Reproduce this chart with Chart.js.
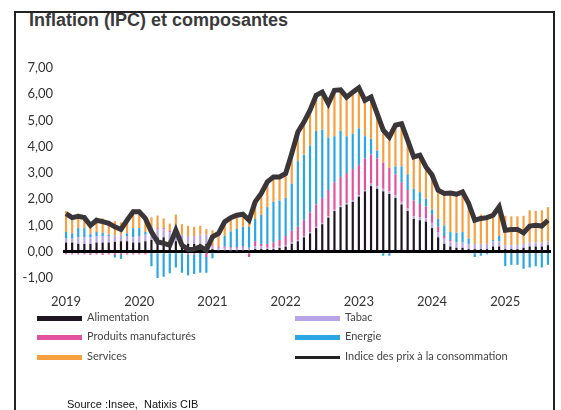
<!DOCTYPE html>
<html>
<head>
<meta charset="utf-8">
<script src="https://cdn.jsdelivr.net/npm/chart.js@4.4.1/dist/chart.umd.min.js"></script>
<style>
  html, body { margin: 0; padding: 0; background: #fff; }
  #wrap { position: relative; width: 561px; height: 410px; overflow: hidden; }
  #frame { position: absolute; left: 14px; top: 11px; width: 537px; height: 420px; border: 2px solid #222; }
  #title { position: absolute; left: 29px; top: 10px; font: bold 18px "Liberation Sans", Arial, sans-serif; color: #3a3a3a; }
  canvas { position: absolute; left: 0; top: 0; }
  .leg { position: absolute; font: 11px Lato, sans-serif; color: #444; white-space: nowrap; }
  .leg i { display: inline-block; width: 45px; height: 5px; vertical-align: middle; margin-right: 5px; }
  #source { position: absolute; left: 67px; top: 398px; font: 11px "Liberation Sans", Arial, sans-serif; color: #111; }
</style>
</head>
<body>
<div id="wrap">
  <div id="frame"></div>
  <div id="title">Inflation (IPC) et composantes</div>
  <canvas id="chart" width="561" height="410"></canvas>
  <div id="legend"></div>
  <div id="source">Source :Insee,&nbsp; Natixis CIB</div>
</div>
<script>
// years shown on the x axis, monthly data Jan 2019 - Aug 2025
const years = ['2019', '2020', '2021', '2022', '2023', '2024', '2025'];
const monthCount = 80;

// contributions (points) to CPI inflation
const alimentation = [
  0.35, 0.35, 0.3, 0.3, 0.3, 0.35, 0.35, 0.35, 0.38, 0.4, 0.4, 0.35,
  0.35, 0.4, 0.45, 0.55, 0.55, 0.45, 0.4, 0.35, 0.3, 0.3, 0.3, 0.3,
  0.1, 0.05, 0.05, 0.02, 0.02, 0.05, 0.05, 0.1, 0.1, 0.1, 0.1, 0.15,
  0.2, 0.3, 0.4, 0.55, 0.7, 0.9, 1.05, 1.3, 1.55, 1.7, 1.8, 1.9,
  2.1, 2.3, 2.5, 2.4, 2.3, 2.2, 2.05, 1.8, 1.55, 1.25, 1.2, 1.15,
  0.9, 0.55, 0.3, 0.2, 0.15, 0.15, 0.1, 0.1, 0.1, 0.1, 0.2, 0.2,
  0.1, 0.1, 0.1, 0.15, 0.2, 0.2, 0.2, 0.25,
];
const tabac = [
  0.15, 0.15, 0.25, 0.25, 0.25, 0.25, 0.25, 0.25, 0.25, 0.25, 0.2, 0.2,
  0.25, 0.25, 0.3, 0.3, 0.3, 0.3, 0.3, 0.3, 0.3, 0.3, 0.35, 0.35,
  0.1, 0.1, 0.1, 0.1, 0.1, 0.1, 0.1, 0.1, 0.1, 0.05, 0.05, 0.05,
  0.05, 0.05, 0.05, 0.05, 0.05, 0.05, 0.05, 0.05, 0.05, 0.05, 0.05, 0.05,
  0.05, 0.05, 0.1, 0.1, 0.1, 0.1, 0.1, 0.1, 0.1, 0.1, 0.12, 0.12,
  0.2, 0.2, 0.2, 0.2, 0.2, 0.2, 0.2, 0.2, 0.2, 0.2, 0.2, 0.2,
  0.15, 0.15, 0.15, 0.15, 0.15, 0.15, 0.15, 0.15,
];
const manufactures = [
  -0.1, -0.1, -0.1, -0.1, -0.12, -0.1, -0.12, -0.1, -0.12, -0.12, -0.1, -0.1,
  -0.1, -0.1, -0.05, 0.05, 0.05, 0.05, 0.3, 0, -0.1, -0.1, -0.05, -0.2,
  0.05, 0.05, 0.05, 0.05, 0.05, 0.05, -0.2, 0.2, 0.1, 0.15, 0.2, 0.25,
  0.35, 0.45, 0.5, 0.6, 0.75, 0.85, 0.95, 1.0, 1.05, 1.1, 1.15, 1.2,
  1.15, 1.2, 1.1, 1.05, 1.0, 0.9, 0.8, 0.75, 0.7, 0.6, 0.5, 0.45,
  0.3, 0.2, 0.1, 0.05, 0.02, 0, -0.05, 0, 0, 0, 0, 0,
  -0.05, -0.05, -0.05, -0.05, -0.05, -0.05, -0.05, -0.05,
];
const energie = [
  0.25, 0.2, 0.35, 0.35, 0.12, 0.15, 0.12, 0.05, -0.1, -0.15, 0.1, 0.35,
  0.3, 0.1, -0.5, -1.0, -0.95, -0.82, -0.6, -0.8, -0.8, -0.75, -0.75, -0.6,
  -0.25, -0.05, 0.4, 0.6, 0.7, 0.75, 0.8, 0.85, 1.1, 1.4, 1.55, 1.5,
  1.45, 1.8, 2.5, 2.5, 2.55, 2.8, 2.6, 2.0, 1.75, 1.75, 1.4, 1.35,
  1.4, 0.85, 0.6, 0.3, -0.15, -0.15, 0.3, 0.6, 0.6, 0.45, 0.45, 0.3,
  0.2, 0.3, 0.4, 0.3, 0.35, 0.4, 0.2, -0.2, -0.15, -0.1, 0.05, 0.2,
  -0.5, -0.45, -0.45, -0.6, -0.55, -0.5, -0.55, -0.45,
];
const services = [
  0.8, 0.7, 0.55, 0.5, 0.45, 0.55, 0.55, 0.53, 0.54, 0.47, 0.6, 0.72,
  0.72, 0.62, 0.56, 0.48, 0.37, 0.27, 0.42, 0.4, 0.39, 0.35, 0.34, 0.21,
  0.57, 0.55, 0.54, 0.53, 0.52, 0.48, 0.45, 0.65, 0.82, 0.96, 0.95, 0.9,
  0.93, 1.14, 1.11, 1.24, 1.34, 1.36, 1.43, 1.29, 1.75, 1.57, 1.49, 1.58,
  1.55, 1.37, 1.59, 1.41, 1.38, 1.32, 1.57, 1.63, 1.3, 1.21, 1.41, 1.21,
  1.32, 1.09, 1.22, 1.49, 1.47, 1.53, 1.39, 1.1, 1.12, 1.1, 0.94, 1.11,
  1.12, 1.1, 1.1, 1.07, 1.23, 1.21, 1.23, 1.3,
];
// CPI, % y/y
const ipc = [
  1.45, 1.3, 1.35, 1.3, 1.0, 1.2, 1.15, 1.08, 0.95, 0.85, 1.2, 1.52,
  1.52, 1.27, 0.76, 0.38, 0.32, 0.25, 0.82, 0.25, 0.09, 0.1, 0.19, 0.06,
  0.57, 0.7, 1.14, 1.3, 1.39, 1.43, 1.2, 1.9, 2.22, 2.66, 2.85, 2.85,
  2.98, 3.74, 4.56, 4.94, 5.39, 5.96, 6.08, 5.64, 6.15, 6.17, 5.89, 6.08,
  6.25, 5.77, 5.89, 5.26, 4.63, 4.37, 4.82, 4.88, 4.25, 3.61, 3.68, 3.23,
  2.92, 2.34, 2.22, 2.24, 2.19, 2.28, 1.84, 1.2, 1.27, 1.3, 1.39, 1.71,
  0.82, 0.85, 0.85, 0.72, 0.98, 1.01, 0.98, 1.2,
];

const months = [];
years.forEach((y) => {
  for (let m = 1; m <= 12; m++) {
    if (months.length < monthCount) months.push(y + '-' + m);
  }
});

const colors = {
  alimentation: '#1e1522',
  tabac: '#b7a3e6',
  manufactures: '#e2529f',
  energie: '#2ba6e2',
  services: '#f6a040',
  ipc: '#3a3539',
};

function bars(label, data, color) {
  return {
    type: 'bar',
    label: label,
    data: data,
    backgroundColor: color,
    stack: 'contrib',
    order: 1,
    barPercentage: 0.36,
    categoryPercentage: 1,
  };
}

new Chart(document.getElementById('chart'), {
  data: {
    labels: months,
    datasets: [
      bars('Alimentation', alimentation, colors.alimentation),
      bars('Tabac', tabac, colors.tabac),
      bars('Produits manufacturés', manufactures, colors.manufactures),
      bars('Energie', energie, colors.energie),
      bars('Services', services, colors.services),
      {
        type: 'line',
        label: 'Indice des prix à la consommation',
        data: ipc,
        borderColor: colors.ipc,
        borderWidth: 5,
        pointRadius: 0,
        tension: 0,
        stack: 'ipc',
        order: 0,
      },
    ],
  },
  options: {
    responsive: false,
    animation: false,
    layout: { padding: { top: 68, right: 10, bottom: 102, left: 0 } },
    plugins: { legend: { display: false }, tooltip: { enabled: false } },
    scales: {
      x: {
        stacked: true,
        grid: { display: false },
        border: { display: false },
        ticks: {
          autoSkip: false,
          maxRotation: 0,
          padding: 8,
          color: '#333',
          font: { family: 'Lato', size: 13 },
          callback: function (value, index) {
            return index % 12 === 0 ? months[index].slice(0, 4) : '';
          },
        },
        afterFit: (scale) => { scale.height = 30; },
      },
      y: {
        stacked: true,
        min: -1,
        max: 7,
        border: { display: false },
        grid: {
          drawTicks: false,
          lineWidth: (ctx) => (ctx.tick && ctx.tick.value === 0 ? 3 : 0),
          color: (ctx) => (ctx.tick && ctx.tick.value === 0 ? '#000' : 'rgba(0,0,0,0)'),
        },
        ticks: {
          stepSize: 1,
          padding: 10,
          color: '#333',
          font: { family: 'Lato', size: 13 },
          callback: (value) => value.toFixed(2).replace('.', ','),
        },
        afterFit: (scale) => { scale.width = 63; },
      },
    },
  },
});

// legend in two columns, like the original
const legendItems = [
  { label: 'Alimentation', color: colors.alimentation, x: 37, y: 318 },
  { label: 'Produits manufacturés', color: colors.manufactures, x: 37, y: 337 },
  { label: 'Services', color: colors.services, x: 37, y: 357 },
  { label: 'Tabac', color: colors.tabac, x: 295, y: 318 },
  { label: 'Energie', color: colors.energie, x: 295, y: 337 },
  { label: 'Indice des prix à la consommation', color: '#222', x: 295, y: 357, thin: true },
];
const legend = document.getElementById('legend');
legendItems.forEach((item) => {
  const div = document.createElement('div');
  div.className = 'leg';
  div.style.left = item.x + 'px';
  div.style.top = (item.y - 8) + 'px';
  const sw = document.createElement('i');
  sw.style.background = item.color;
  if (item.thin) sw.style.height = '3px';
  div.appendChild(sw);
  div.appendChild(document.createTextNode(item.label));
  legend.appendChild(div);
});
</script>
</body>
</html>
